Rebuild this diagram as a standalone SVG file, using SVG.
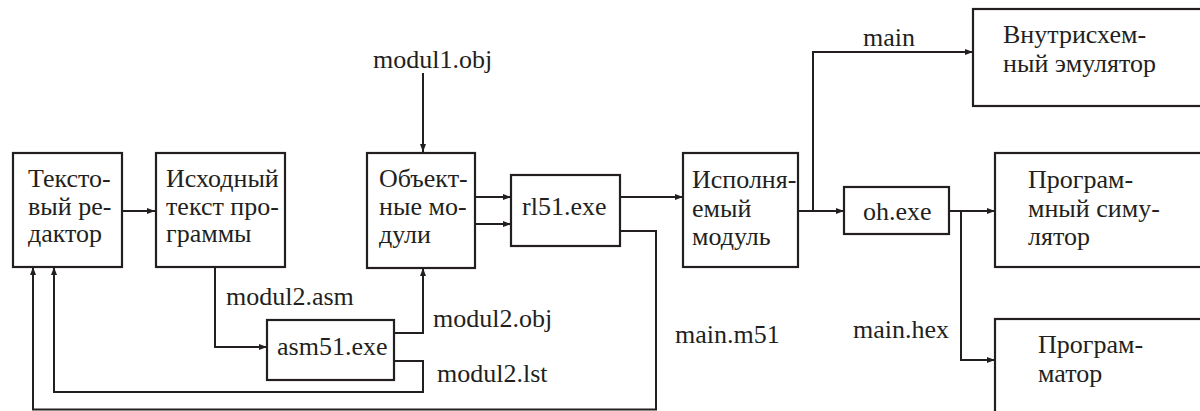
<svg xmlns="http://www.w3.org/2000/svg" width="1200" height="411" viewBox="0 0 1200 411">
  <style>
    .box { fill: #fff; stroke: #231f20; stroke-width: 2.2; }
    .wire { fill: none; stroke: #231f20; stroke-width: 2; }
  </style>
  <defs>
    <marker id="arr" viewBox="0 0 8 6" refX="8" refY="3" markerWidth="8" markerHeight="6" markerUnits="userSpaceOnUse" orient="auto">
      <path d="M0,0 L8,3 L0,6 Z" fill="#231f20"/>
    </marker>
  </defs>
  <rect width="1200" height="411" fill="#fff"/>

  <!-- connectors -->
  <g id="connectors">
    <path class="wire" d="M122,211 H155" marker-end="url(#arr)"/>
    <path class="wire" d="M215,267 V347 H267" marker-end="url(#arr)"/>
    <path class="wire" d="M423,73 V152" marker-end="url(#arr)"/>
    <path class="wire" d="M394,333 H423 V268" marker-end="url(#arr)"/>
    <path class="wire" d="M394,361 H423 V392 H54 V267" marker-end="url(#arr)"/>
    <path class="wire" d="M475,197 H511" marker-end="url(#arr)"/>
    <path class="wire" d="M475,224 H511" marker-end="url(#arr)"/>
    <path class="wire" d="M620,197 H683" marker-end="url(#arr)"/>
    <path class="wire" d="M620,231 H656 V409.5 H33 V267" marker-end="url(#arr)"/>
    <path class="wire" d="M798,211 H844" marker-end="url(#arr)"/>
    <path class="wire" d="M813,211 V52 H973" marker-end="url(#arr)"/>
    <path class="wire" d="M949,211 H995" marker-end="url(#arr)"/>
    <path class="wire" d="M961,211 V360 H995" marker-end="url(#arr)"/>
  </g>

  <!-- connector labels -->
  <g id="labels">
    <text style="font-family:'Liberation Serif',serif;font-size:26px;fill:#231f20" x="373" y="68">modul1.obj</text>
    <text style="font-family:'Liberation Serif',serif;font-size:26px;fill:#231f20" x="226" y="305">modul2.asm</text>
    <text style="font-family:'Liberation Serif',serif;font-size:26px;fill:#231f20" x="433" y="327">modul2.obj</text>
    <text style="font-family:'Liberation Serif',serif;font-size:26px;fill:#231f20" x="437" y="382">modul2.lst</text>
    <text style="font-family:'Liberation Serif',serif;font-size:26px;fill:#231f20" x="675" y="343">main.m51</text>
    <text style="font-family:'Liberation Serif',serif;font-size:26px;fill:#231f20" x="863" y="46">main</text>
    <text style="font-family:'Liberation Serif',serif;font-size:26px;fill:#231f20" x="853" y="338">main.hex</text>
  </g>

  <g id="editor">
    <rect class="box" x="13" y="153" width="109" height="114"/>
    <text style="font-family:'Liberation Serif',serif;font-size:26px;fill:#231f20" x="28" y="187">Тексто-</text>
    <text style="font-family:'Liberation Serif',serif;font-size:26px;fill:#231f20" x="28" y="215">вый ре-</text>
    <text style="font-family:'Liberation Serif',serif;font-size:26px;fill:#231f20" x="28" y="242">дактор</text>
  </g>

  <g id="source">
    <rect class="box" x="156" y="153" width="129" height="114"/>
    <text style="font-family:'Liberation Serif',serif;font-size:26px;fill:#231f20" x="166" y="187">Исходный</text>
    <text style="font-family:'Liberation Serif',serif;font-size:26px;fill:#231f20" x="166" y="215">текст про-</text>
    <text style="font-family:'Liberation Serif',serif;font-size:26px;fill:#231f20" x="166" y="242">граммы</text>
  </g>

  <g id="asm51">
    <rect class="box" x="267" y="320" width="127" height="60"/>
    <text style="font-family:'Liberation Serif',serif;font-size:26px;fill:#231f20" x="277" y="355">asm51.exe</text>
  </g>

  <g id="objects">
    <rect class="box" x="367" y="153" width="108" height="115"/>
    <text style="font-family:'Liberation Serif',serif;font-size:26px;fill:#231f20" x="379" y="187">Объект-</text>
    <text style="font-family:'Liberation Serif',serif;font-size:26px;fill:#231f20" x="379" y="215">ные мо-</text>
    <text style="font-family:'Liberation Serif',serif;font-size:26px;fill:#231f20" x="379" y="243">дули</text>
  </g>

  <g id="rl51">
    <rect class="box" x="511" y="175" width="109" height="71"/>
    <text style="font-family:'Liberation Serif',serif;font-size:26px;fill:#231f20" x="522" y="215">rl51.exe</text>
  </g>

  <g id="executable">
    <rect class="box" x="683" y="153" width="115" height="114"/>
    <text style="font-family:'Liberation Serif',serif;font-size:26px;fill:#231f20" x="692" y="188">Исполня-</text>
    <text style="font-family:'Liberation Serif',serif;font-size:26px;fill:#231f20" x="692" y="217">емый</text>
    <text style="font-family:'Liberation Serif',serif;font-size:26px;fill:#231f20" x="692" y="245">модуль</text>
  </g>

  <g id="ohexe">
    <rect class="box" x="844" y="187" width="105" height="47"/>
    <text style="font-family:'Liberation Serif',serif;font-size:26px;fill:#231f20" x="863" y="220">oh.exe</text>
  </g>

  <g id="emulator">
    <rect class="box" x="973" y="9" width="240" height="97"/>
    <text style="font-family:'Liberation Serif',serif;font-size:26px;fill:#231f20" x="1003" y="43">Внутрисхем-</text>
    <text style="font-family:'Liberation Serif',serif;font-size:26px;fill:#231f20" x="1003" y="72">ный эмулятор</text>
  </g>

  <g id="simulator">
    <rect class="box" x="995" y="153" width="218" height="114"/>
    <text style="font-family:'Liberation Serif',serif;font-size:26px;fill:#231f20" x="1028" y="188">Програм-</text>
    <text style="font-family:'Liberation Serif',serif;font-size:26px;fill:#231f20" x="1028" y="217">мный симу-</text>
    <text style="font-family:'Liberation Serif',serif;font-size:26px;fill:#231f20" x="1028" y="245">лятор</text>
  </g>

  <g id="programmer">
    <rect class="box" x="995" y="319" width="218" height="110"/>
    <text style="font-family:'Liberation Serif',serif;font-size:26px;fill:#231f20" x="1038" y="353">Програм-</text>
    <text style="font-family:'Liberation Serif',serif;font-size:26px;fill:#231f20" x="1038" y="382">матор</text>
  </g>
</svg>
